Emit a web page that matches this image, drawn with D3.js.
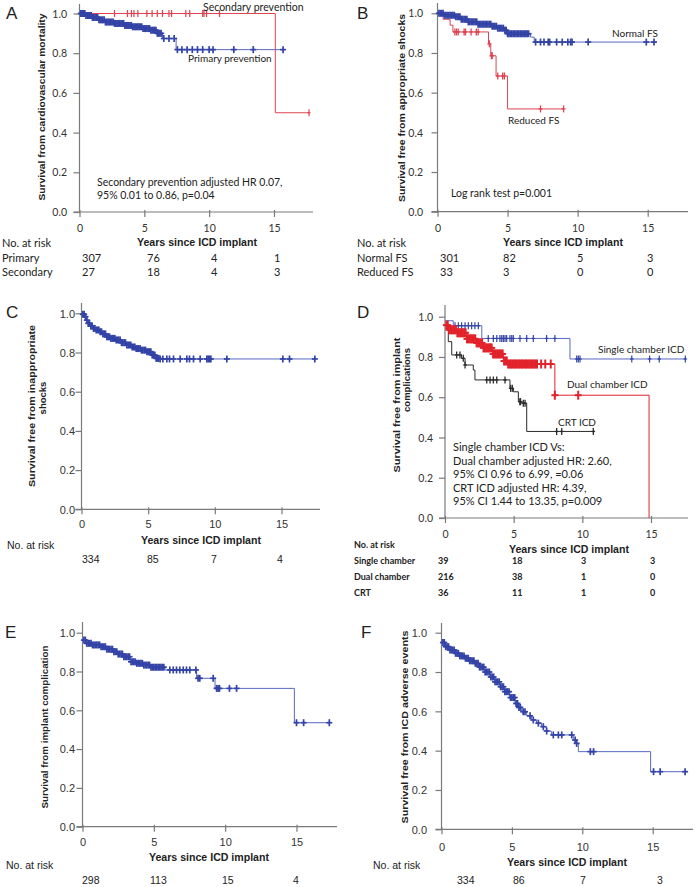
<!DOCTYPE html>
<html><head><meta charset="utf-8">
<script src="https://cdn.jsdelivr.net/npm/d3@7"></script>
<style>body{margin:0;background:#fff}</style>
</head><body>
<svg id="c" width="695" height="887"></svg>
<script>
// ---------- shared ----------
const xTicks = [0, 5, 10, 15];
const yTicks = [0, 0.2, 0.4, 0.6, 0.8, 1.0];
const xTitle = "Years since ICD implant";
const riskTitle = "No. at risk";

// ---------- Panel A ----------
const aPrimarySteps = [[0,1],[0.5,0.99],[1.0,0.98],[1.5,0.968],[2.0,0.957],[2.7,0.95],[3.5,0.94],[4.1,0.933],[4.85,0.924],[5.5,0.916],[6.0,0.9],[6.4,0.874],[7.45,0.818]];
const aPrimaryEnd = 15.7;
const aPrimaryCensor = [0.1,0.2,0.3,0.4,0.5,0.6,0.7,0.8,0.9,1.0,1.1,1.2,1.3,1.4,1.5,1.6,1.7,1.8,1.9,2.0,2.1,2.2,2.3,2.4,2.5,2.6,2.7,2.8,2.9,3.0,3.1,3.2,3.3,3.4,3.5,3.6,3.7,3.8,3.9,4.0,4.1,4.2,4.3,4.4,4.5,4.6,4.7,4.8,4.9,5.0,5.1,5.2,5.3,5.4,5.5,5.6,5.7,5.8,5.9,6.0,6.1,6.2,6.3,6.5,6.9,7.3,7.55,7.9,8.3,8.7,9.1,9.5,10.0,10.3,11.9,13.4,15.7];
const aSecondarySteps = [[0,1],[15.1,0.5]];
const aSecondaryEnd = 17.7;
const aSecondaryCensor = [0.2,0.4,2.7,3.7,4.0,4.2,4.5,5.2,5.6,6.0,6.4,6.9,7.1,8.2,8.5,9.5,9.6,9.8,10.8,17.7];
const aRiskLabels = ["Primary","Secondary"];
const aRiskPrimary = [307,76,4,1];
const aRiskSecondary = [27,18,4,3];

// ---------- Panel B ----------
const bNormalSteps = [[0,1],[0.5,0.99],[1.24,0.983],[1.7,0.97],[2.18,0.957],[2.89,0.945],[3.83,0.935],[4.3,0.925],[4.77,0.915],[5.0,0.897],[6.64,0.88],[6.9,0.855]];
const bNormalEnd = 15.56;
const bNormalCensor = [0.1,0.2,0.3,0.4,0.5,0.6,0.7,0.8,0.9,1.0,1.1,1.2,1.3,1.4,1.5,1.6,1.7,1.8,1.9,2.0,2.1,2.2,2.3,2.4,2.5,2.6,2.7,2.8,2.9,3.0,3.1,3.2,3.3,3.4,3.5,3.6,3.7,3.8,3.9,4.0,4.1,4.2,4.3,4.4,4.5,4.6,4.7,4.8,4.9,5.0,5.1,5.2,5.3,5.4,5.5,5.6,5.7,5.8,5.9,6.0,6.1,6.2,6.3,6.4,6.5,7.0,7.35,7.6,7.9,8.0,8.5,8.9,9.3,9.5,9.6,10.75,14.9,15.45];
const bReducedSteps = [[0,1],[0.4,0.97],[0.9,0.94],[1.1,0.906],[3.64,0.846],[3.8,0.786],[4.18,0.684],[5.0,0.518]];
const bReducedEnd = 9.0;
const bReducedCensor = [1.24,1.36,1.48,1.9,2.0,2.4,2.77,2.9,3.7,3.85,3.9,4.3,4.65,4.77,7.35,9.0];
const bRiskLabels = ["Normal FS","Reduced FS"];
const bRiskNormal = [301,82,5,3];
const bRiskReduced = [33,3,0,0];

// ---------- Panel C ----------
const cSteps = [[0,1],[0.1,0.995],[0.25,0.983],[0.4,0.965],[0.5,0.949],[0.7,0.935],[0.875,0.923],[1.1,0.915],[1.375,0.906],[1.6,0.895],[1.9,0.88],[2.2,0.872],[2.6,0.864],[3.0,0.85],[3.4,0.838],[3.8,0.828],[4.1,0.82],[4.5,0.812],[4.9,0.804],[5.25,0.787],[5.6,0.77],[5.9,0.767]];
const cEnd = 17.5;
const cCensor = [0.1,0.2,0.3,0.4,0.5,0.6,0.7,0.8,0.9,1.0,1.1,1.2,1.3,1.4,1.5,1.6,1.7,1.8,1.9,2.0,2.1,2.2,2.3,2.4,2.5,2.6,2.7,2.8,2.9,3.0,3.1,3.2,3.3,3.4,3.5,3.6,3.7,3.8,3.9,4.0,4.1,4.2,4.3,4.4,4.5,4.6,4.7,4.8,4.9,5.0,5.1,5.2,5.3,5.4,5.5,5.6,5.7,5.8,5.9,6.1,6.4,6.6,6.9,7.4,7.9,8.1,8.4,8.9,9.4,9.5,9.6,9.7,10.9,15.1,15.6,17.5];
const cRisk = [334,85,7,4];

// ---------- Panel D ----------
const dSingleSteps = [[0,0.98],[0.6,0.955],[2.68,0.892],[9.1,0.79]];
const dSingleEnd = 17.5;
const dSingleCensor = [0.73,0.97,1.21,1.46,1.7,1.94,2.18,2.43,3.15,3.52,3.77,4.0,4.13,4.25,4.37,4.49,4.73,4.86,4.97,5.46,5.95,6.43,7.4,8.0,9.59,9.71,9.83,13.6,14.9,15.6,17.5];
const dDualSteps = [[0,0.958],[0.25,0.935],[0.85,0.92],[1.6,0.89],[2.3,0.87],[2.8,0.845],[3.5,0.815],[4.25,0.78],[4.6,0.765],[8.0,0.61],[14.86,0]];
const dDualEnd = 14.86;
const dDualCensor = [0.1,0.2,0.3,0.4,0.5,0.6,0.7,0.8,0.9,1.0,1.1,1.2,1.3,1.4,1.5,1.6,1.7,1.8,1.9,2.0,2.1,2.2,2.3,2.4,2.5,2.6,2.7,2.8,2.9,3.0,3.1,3.2,3.3,3.4,3.5,3.6,3.7,3.8,3.9,4.0,4.1,4.2,4.3,4.4,4.5,4.6,4.7,4.8,4.9,5.0,5.1,5.2,5.3,5.4,5.5,5.6,5.7,5.8,5.9,6.0,6.1,6.2,6.3,6.4,6.5,6.6,6.7,7.0,7.3,7.7,8.0,9.7];
const dCrtSteps = [[0,0.958],[0.24,0.876],[0.49,0.81],[1.21,0.793],[1.46,0.76],[2.06,0.735],[2.18,0.686],[4.73,0.644],[4.98,0.627],[5.34,0.578],[5.6,0.57],[5.95,0.43]];
const dCrtEnd = 10.8;
const dCrtCensor = [0.85,1.09,1.33,1.46,3.04,3.28,3.52,3.77,4.37,4.78,4.9,5.45,5.5,5.7,5.83,8.13,8.5,10.8];
const dRiskLabels = ["Single chamber","Dual chamber","CRT"];
const dRiskSingle = [39,18,3,3];
const dRiskDual = [216,38,1,0];
const dRiskCrt = [36,11,1,0];

// ---------- Panel E ----------
const eSteps = [[0,0.962],[0.29,0.945],[0.7,0.937],[1.23,0.928],[1.7,0.915],[2.16,0.902],[2.5,0.89],[2.86,0.876],[3.33,0.85],[3.8,0.842],[4.26,0.833],[4.73,0.822],[5.78,0.808],[8.0,0.765],[9.29,0.713],[14.85,0.536]];
const eEnd = 17.3;
const eCensor = [0.1,0.2,0.3,0.4,0.5,0.6,0.7,0.8,0.9,1.0,1.1,1.2,1.3,1.4,1.5,1.6,1.7,1.8,1.9,2.0,2.1,2.2,2.3,2.4,2.5,2.6,2.7,2.8,2.9,3.0,3.1,3.2,3.3,3.4,3.5,3.6,3.7,3.8,3.9,4.0,4.1,4.2,4.3,4.4,4.5,4.6,4.7,4.8,4.9,5.0,5.1,5.2,5.3,5.4,5.5,5.6,5.7,6.12,6.36,6.59,6.82,7.06,7.29,7.52,7.95,8.1,8.22,9.16,9.4,9.5,9.6,10.3,10.8,15.0,15.5,17.3];
const eRisk = [298,113,15,4];

// ---------- Panel F ----------
const fSteps = [[0,0.965],[0.1,0.95],[0.25,0.929],[0.6,0.912],[0.96,0.895],[1.3,0.882],[1.67,0.87],[2.0,0.857],[2.38,0.844],[2.7,0.825],[3.09,0.80],[3.45,0.775],[3.8,0.75],[4.15,0.725],[4.5,0.70],[4.85,0.67],[5.22,0.64],[5.45,0.62],[5.7,0.598],[6.05,0.577],[6.4,0.556],[6.75,0.54],[7.1,0.522],[7.45,0.5],[7.8,0.48],[9.36,0.454],[9.6,0.437],[9.72,0.395],[14.85,0.293]];
const fEnd = 17.3;
const fCensor = [0.1,0.2,0.3,0.4,0.5,0.6,0.7,0.8,0.9,1.0,1.1,1.2,1.3,1.4,1.5,1.6,1.7,1.8,1.9,2.0,2.1,2.2,2.3,2.4,2.5,2.6,2.7,2.8,2.9,3.0,3.1,3.2,3.3,3.4,3.5,3.6,3.7,3.8,3.9,4.0,4.1,4.2,4.3,4.4,4.5,4.6,4.7,4.8,4.9,5.0,5.1,5.2,5.3,5.4,5.5,5.6,5.8,5.93,6.29,6.52,6.88,7.23,7.47,7.94,8.3,8.54,9.25,9.49,9.6,10.57,10.8,15.06,15.53,17.3];
const fRisk = [334,86,7,3];

// ---------- drawing ----------
const svg = d3.select("#c");
const BLUE_LINE = "#5869c2", BLUE_MARK = "#3343a6", RED = "#de4452", RED_D = "#e2232c", BLACK = "#2a2a2a";
const AXIS = "#7a7a7a";

function stepAt(steps, t) {
  let s = steps[0][1];
  for (const d of steps) if (d[0] <= t) s = d[1];
  return s;
}

function drawCurve(g, x, y, steps, end, censor, st) {
  const pts = steps.concat([[end, steps[steps.length - 1][1]]]);
  const line = d3.line().x(d => x(d[0])).y(d => y(d[1])).curve(d3.curveStepAfter);
  g.append("path").attr("d", line(pts)).attr("fill", "none")
    .attr("stroke", st.line).attr("stroke-width", st.lw || 1);
  const m = g.append("g").attr("stroke", st.mark).attr("stroke-width", st.mw || 1.3);
  censor.forEach(t => {
    const cx = x(t), cy = y(stepAt(steps, t));
    m.append("line").attr("x1", cx).attr("x2", cx).attr("y1", cy - st.h).attr("y2", cy + st.h);
    m.append("line").attr("x1", cx - st.w).attr("x2", cx + st.w).attr("y1", cy).attr("y2", cy);
  });
}

function drawPanel(cfg) {
  const g = svg.append("g");
  const x = d3.scaleLinear().domain([0, 15]).range([cfg.x0, cfg.x15]);
  const y = d3.scaleLinear().domain([0, 1]).range([cfg.yb, cfg.yt]);
  g.append("line").attr("x1", cfg.x0).attr("x2", cfg.x0).attr("y1", cfg.axisTop).attr("y2", cfg.yb + 1)
    .attr("stroke", AXIS).attr("stroke-width", 1.2);
  g.append("line").attr("x1", cfg.x0 - 6).attr("x2", cfg.axisRight).attr("y1", cfg.yb).attr("y2", cfg.yb)
    .attr("stroke", AXIS).attr("stroke-width", 1.2);
  const ya = g.append("g").attr("transform", `translate(${cfg.x0},0)`)
    .call(d3.axisLeft(y).tickValues(yTicks).tickFormat(d3.format(".1f")).tickSize(6).tickSizeOuter(0));
  ya.select(".domain").remove();
  ya.selectAll(".tick line").attr("stroke", AXIS).attr("stroke-width", 1.2);
  ya.selectAll(".tick text").attr("x", cfg.yLabRight - cfg.x0).attr("dy", "0.35em")
    .attr("font-family", cfg.font).attr("font-size", cfg.tickFs).attr("fill", "#333");
  const xa = g.append("g").attr("transform", `translate(0,${cfg.yb})`)
    .call(d3.axisBottom(x).tickValues(xTicks).tickFormat(d3.format("d")).tickSize(5).tickSizeOuter(0));
  xa.select(".domain").remove();
  xa.selectAll(".tick line").attr("stroke", AXIS).attr("stroke-width", 1.2).attr("y1", -2);
  xa.selectAll(".tick text").attr("y", cfg.xLabY - cfg.yb).attr("dy", null)
    .attr("font-family", cfg.font).attr("font-size", cfg.tickFs).attr("fill", "#333");
  g.append("text").attr("x", cfg.xTitleX).attr("y", cfg.xTitleY).attr("text-anchor", "middle")
    .attr("font-family", "Liberation Sans, Arial").attr("font-weight", "bold").attr("font-size", 10)
    .attr("textLength", 120).attr("lengthAdjust", "spacingAndGlyphs").attr("fill", "#222").text(xTitle);
  cfg.yTitle.forEach(ln => {
    const t = g.append("text").attr("transform", `translate(${ln.x},${ln.cy}) rotate(-90)`).attr("text-anchor", "middle")
      .attr("font-family", "Liberation Sans, Arial").attr("font-weight", "bold").attr("font-size", 9.5)
      .attr("fill", "#222").text(ln.text);
    if (ln.len) t.attr("textLength", ln.len).attr("lengthAdjust", "spacingAndGlyphs");
  });
  g.append("text").attr("x", cfg.letter[0]).attr("y", cfg.letter[1]).attr("font-family", "Liberation Sans, Arial")
    .attr("font-size", 17).attr("fill", "#222").text(cfg.letter[2]);
  cfg.curves.forEach(c => drawCurve(g, x, y, c.steps, c.end, c.censor, c.st));
  cfg.texts.forEach(t => {
    g.append("text").attr("x", t.x).attr("y", t.y).attr("font-family", t.font || cfg.font)
      .attr("font-size", t.fs || 10.5).attr("font-weight", t.fw || "normal").attr("fill", t.fill || "#222").text(t.s);
  });
  const rk = cfg.risk;
  g.append("text").attr("x", rk.titleX).attr("y", rk.titleY).attr("font-family", rk.font)
    .attr("font-size", rk.fs).attr("font-weight", rk.fw).attr("fill", "#222").text(riskTitle);
  rk.rows.forEach((row, i) => {
    if (row.label) g.append("text").attr("x", rk.titleX).attr("y", rk.rowY[i]).attr("font-family", rk.font)
      .attr("font-size", rk.fs).attr("font-weight", rk.fw).attr("fill", "#222").text(row.label);
    row.values.forEach((v, j) => {
      g.append("text").attr("x", rk.colX[j]).attr("y", rk.rowY[i]).attr("font-family", rk.font)
        .attr("font-size", rk.fs).attr("font-weight", rk.fw).attr("fill", "#222").text(v);
    });
  });
}

const blueDense = {line: BLUE_LINE, mark: BLUE_MARK, h: 3.5, w: 3, mw: 1.7};
const LATO = "Lato, Carlito, sans-serif";
const LIB = "Liberation Sans, Arial, sans-serif";

// A
drawPanel({
  x0: 79.5, x15: 274, yb: 212, yt: 13.5, axisTop: 4, axisRight: 313,
  yLabRight: 67, xLabY: 232, tickFs: 10.5, font: LATO,
  xTitleX: 197, xTitleY: 246,
  yTitle: [{x: 45, cy: 107, len: 187, text: "Survival from cardiovascular mortality"}],
  letter: [6, 19, "A"],
  curves: [
    {steps: aSecondarySteps, end: aSecondaryEnd, censor: aSecondaryCensor, st: {line: RED, mark: RED, h: 3.5, w: 1.5, mw: 1.2}},
    {steps: aPrimarySteps, end: aPrimaryEnd, censor: aPrimaryCensor, st: blueDense}
  ],
  texts: [
    {x: 203, y: 11, s: "Secondary prevention", fs: 10.5},
    {x: 188, y: 62, s: "Primary prevention", fs: 10},
    {x: 97, y: 186, s: "Secondary prevention adjusted HR  0.07,", fs: 10.5},
    {x: 97, y: 199, s: "95% 0.01 to 0.86, p=0.04", fs: 10.5}
  ],
  risk: {titleX: 2, titleY: 247, font: LATO, fs: 11, fw: "normal",
    rowY: [262, 276], colX: [82, 147, 211, 274],
    rows: [{label: aRiskLabels[0], values: aRiskPrimary}, {label: aRiskLabels[1], values: aRiskSecondary}]}
});

// B
drawPanel({
  x0: 437.5, x15: 647.7, yb: 211.7, yt: 13.3, axisTop: 3, axisRight: 688,
  yLabRight: 423, xLabY: 232, tickFs: 10.5, font: LATO,
  xTitleX: 563, xTitleY: 246,
  yTitle: [{x: 405, cy: 108, len: 188, text: "Survival free from appropriate shocks"}],
  letter: [357, 19, "B"],
  curves: [
    {steps: bReducedSteps, end: bReducedEnd, censor: bReducedCensor, st: {line: RED, mark: RED, h: 3.5, w: 2, mw: 1.3}},
    {steps: bNormalSteps, end: bNormalEnd, censor: bNormalCensor, st: blueDense}
  ],
  texts: [
    {x: 612, y: 37, s: "Normal FS", fs: 10},
    {x: 508, y: 124, s: "Reduced FS", fs: 10},
    {x: 451, y: 197, s: "Log rank test p=0.001", fs: 10.5}
  ],
  risk: {titleX: 357, titleY: 247, font: LATO, fs: 11, fw: "normal",
    rowY: [262, 276], colX: [440, 503, 577, 647],
    rows: [{label: bRiskLabels[0], values: bRiskNormal}, {label: bRiskLabels[1], values: bRiskReduced}]}
});

// C
drawPanel({
  x0: 81.5, x15: 281.5, yb: 509.3, yt: 313.3, axisTop: 303, axisRight: 320,
  yLabRight: 75, xLabY: 528, tickFs: 11, font: LIB,
  xTitleX: 201, xTitleY: 544,
  yTitle: [{x: 35, cy: 406, len: 162, text: "Survival free from inappropriate"},
           {x: 46, cy: 398, len: null, text: "shocks"}],
  letter: [6, 318, "C"],
  curves: [{steps: cSteps, end: cEnd, censor: cCensor, st: blueDense}],
  texts: [],
  risk: {titleX: 7, titleY: 549, font: LIB, fs: 10.5, fw: "normal",
    rowY: [563], colX: [82, 147, 211, 277],
    rows: [{label: null, values: cRisk}]}
});

// D
drawPanel({
  x0: 445, x15: 651, yb: 518, yt: 316.7, axisTop: 305, axisRight: 688,
  yLabRight: 433, xLabY: 538, tickFs: 10.5, font: LATO,
  xTitleX: 569, xTitleY: 553,
  yTitle: [{x: 400, cy: 405, len: 135, text: "Survival free from implant"},
           {x: 410, cy: 380, len: null, text: "complications"}],
  letter: [357, 318, "D"],
  curves: [
    {steps: dCrtSteps, end: dCrtEnd, censor: dCrtCensor, st: {line: BLACK, mark: BLACK, h: 3.5, w: 1.8, mw: 1.3}},
    {steps: dSingleSteps, end: dSingleEnd, censor: dSingleCensor, st: {line: BLUE_LINE, mark: BLUE_MARK, h: 3.5, w: 1.8, mw: 1.2}},
    {steps: dDualSteps, end: dDualEnd, censor: dDualCensor, st: {line: RED_D, mark: RED_D, h: 4.5, w: 3.5, mw: 2}}
  ],
  texts: [
    {x: 598, y: 353, s: "Single chamber ICD", fs: 10},
    {x: 567, y: 388, s: "Dual chamber ICD", fs: 10},
    {x: 558, y: 426, s: "CRT ICD", fs: 10},
    {x: 453, y: 451, s: "Single chamber ICD Vs:", fs: 11},
    {x: 453, y: 464.5, s: "Dual chamber adjusted HR: 2.60,", fs: 11},
    {x: 453, y: 478, s: "95% CI 0.96 to 6.99, =0.06", fs: 11},
    {x: 453, y: 491.5, s: "CRT ICD adjusted HR: 4.39,", fs: 11},
    {x: 453, y: 505, s: "95% CI 1.44 to 13.35, p=0.009", fs: 11}
  ],
  risk: {titleX: 354, titleY: 548, font: LATO, fs: 9, fw: "bold",
    rowY: [564, 580, 596], colX: [438, 512, 581, 650],
    rows: [{label: dRiskLabels[0], values: dRiskSingle}, {label: dRiskLabels[1], values: dRiskDual}, {label: dRiskLabels[2], values: dRiskCrt}]}
});

// E
drawPanel({
  x0: 82.5, x15: 296.5, yb: 826.7, yt: 632.7, axisTop: 622, axisRight: 337,
  yLabRight: 75, xLabY: 846, tickFs: 11, font: LIB,
  xTitleX: 209, xTitleY: 861,
  yTitle: [{x: 48, cy: 727, len: 163, text: "Survival from implant complication"}],
  letter: [5, 638, "E"],
  curves: [{steps: eSteps, end: eEnd, censor: eCensor, st: blueDense}],
  texts: [],
  risk: {titleX: 6, titleY: 869, font: LIB, fs: 10.5, fw: "normal",
    rowY: [884], colX: [82, 150, 222, 293],
    rows: [{label: null, values: eRisk}]}
});

// F
drawPanel({
  x0: 441.5, x15: 652.7, yb: 829.3, yt: 632.7, axisTop: 623, axisRight: 693,
  yLabRight: 427, xLabY: 851, tickFs: 11, font: LIB,
  xTitleX: 567, xTitleY: 866,
  yTitle: [{x: 408, cy: 727, len: 193, text: "Survival free from ICD adverse events"}],
  letter: [361, 638, "F"],
  curves: [{steps: fSteps, end: fEnd, censor: fCensor, st: blueDense}],
  texts: [],
  risk: {titleX: 373, titleY: 869, font: LIB, fs: 10.5, fw: "normal",
    rowY: [884], colX: [457, 513, 580, 657],
    rows: [{label: null, values: fRisk}]}
});
</script>
</body></html>
